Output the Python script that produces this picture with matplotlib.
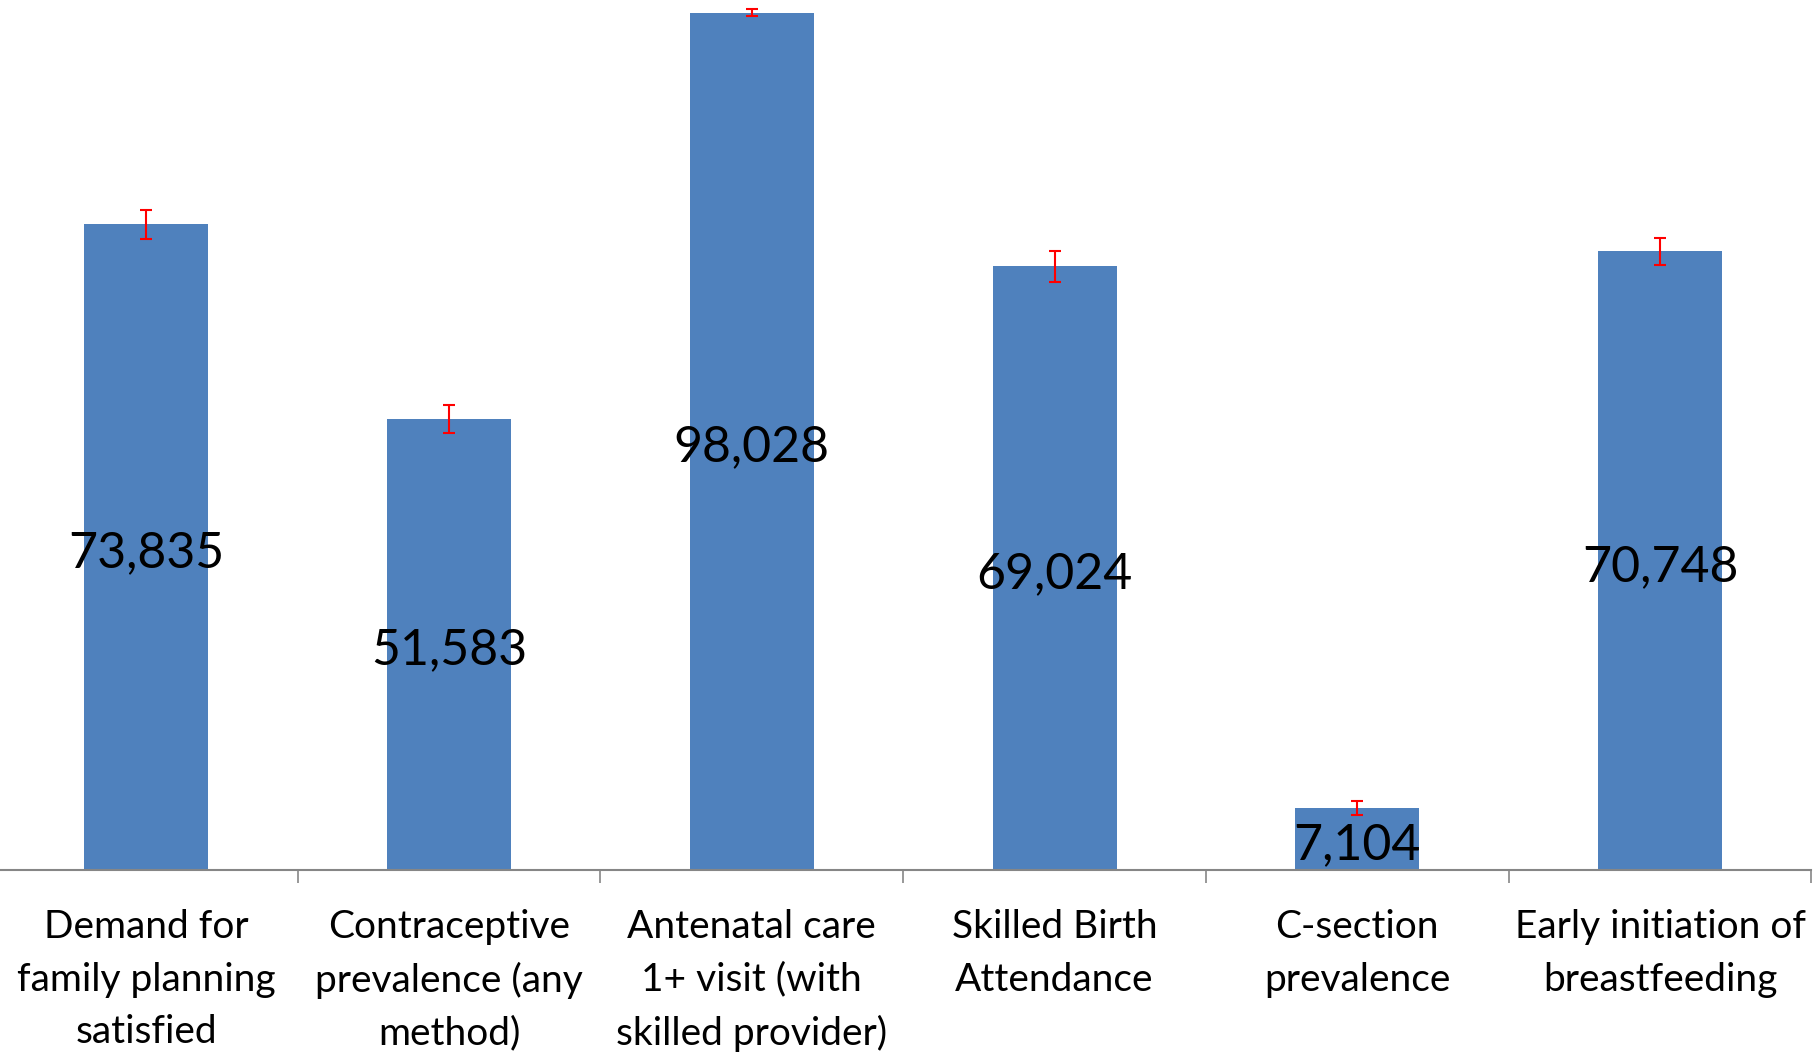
import matplotlib.pyplot as plt
import numpy as np

plt.rcParams['font.family'] = ['Lato', 'DejaVu Sans']

categories = ["Demand for\nfamily planning\nsatisfied",
              "Contraceptive\nprevalence (any\nmethod)",
              "Antenatal care\n1+ visit (with\nskilled provider)",
              "Skilled Birth\nAttendance",
              "C-section\nprevalence",
              "Early initiation of\nbreastfeeding"]
values = [73.835, 51.583, 98.028, 69.024, 7.104, 70.748]
errors = [1.66, 1.55, 0.4, 1.8, 0.8, 1.5]

fig = plt.figure(figsize=(18.15, 10.52), dpi=100)
ax = fig.add_axes([-5/1815, 182/1052, 1816.5/1815, 870/1052])

x = np.arange(len(values))
ax.bar(x, values, width=0.41, color="#4F81BD", zorder=2)
ax.errorbar(x, values, yerr=errors, fmt="none", ecolor="red",
            elinewidth=1.5, capsize=4.5, capthick=1.5, zorder=3)

# value labels in the middle of each bar
for xi, v in zip(x, values):
    ax.text(xi, v / 2 - 0.7, f"{v:.3f}".replace(".", ","), ha="center", va="center",
            fontsize=36, color="black", zorder=4)

ax.set_xlim(-0.5, len(values) - 0.5)
ax.set_ylim(0, 99.5)
ax.set_yticks([])
for s in ["top", "right", "left"]:
    ax.spines[s].set_visible(False)
ax.spines["bottom"].set_color("#868686")
ax.spines["bottom"].set_linewidth(1.5)

ax.set_xticks(np.arange(len(values) + 1) - 0.5)
ax.set_xticklabels([])
ax.tick_params(axis="x", direction="out", length=9, width=1.2, color="#868686")

for xi, lab in zip(x, categories):
    ax.text(xi, -4.5, lab, ha="center", va="top", fontsize=28,
            linespacing=1.56, clip_on=False)

fig.savefig("out.png", dpi=100)
